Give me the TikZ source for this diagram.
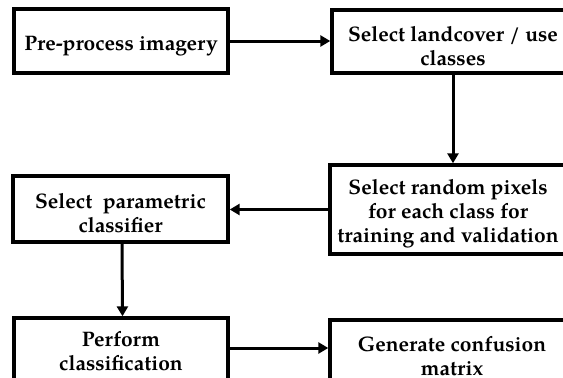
\documentclass[tikz,border=0pt]{standalone}
\usepackage{fontspec}
\setmainfont{TeX Gyre Pagella}
\usetikzlibrary{arrows.meta}
\newcommand\topstrut{\rule{0pt}{24pt}}
\begin{document}
\begin{tikzpicture}[x=1pt,y=-1pt,
  stepbox/.style={draw=black,line width=3.4pt,fill=white,align=center,inner sep=0pt,
    font=\fontsize{21}{24}\selectfont\bfseries},
  arr/.style={line width=3pt,-{Triangle[length=10pt,width=11pt]}}]
\useasboundingbox (0,0) rectangle (563,378);
\node[stepbox,minimum width=214pt,minimum height=64pt] (b1) at (121,41) {\topstrut Pre-process imagery};
\node[stepbox,minimum width=242pt,minimum height=63pt] (b2) at (453,41.5) {\topstrut Select landcover / use\\classes};
\node[stepbox,minimum width=236pt,minimum height=89pt] (b3) at (448,209.5) {\topstrut Select random pixels\\for each class for\\training and validation};
\node[stepbox,minimum width=215pt,minimum height=66pt] (b4) at (120.5,209) {\topstrut Select\ \ parametric\\classifier};
\node[stepbox,minimum width=214pt,minimum height=66pt] (b5) at (121,351) {Perform\\classification};
\node[stepbox,minimum width=244pt,minimum height=66pt] (b6) at (452,353) {\rule{0pt}{22pt}Generate confusion\\matrix};
\draw[arr] (b1.east) -- (b2.west |- b1.east);
\draw[arr] (b2.south) -- (b3.north -| b2.south);
\draw[arr] (b3.west) -- (b4.east |- b3.west);
\draw[arr] ([xshift=1.5pt]b4.south) -- ([xshift=1.5pt]b5.north);
\draw[arr] ([yshift=3pt]b5.east) -- ([yshift=3pt]b5.east -| b6.west);
\end{tikzpicture}
\end{document}
